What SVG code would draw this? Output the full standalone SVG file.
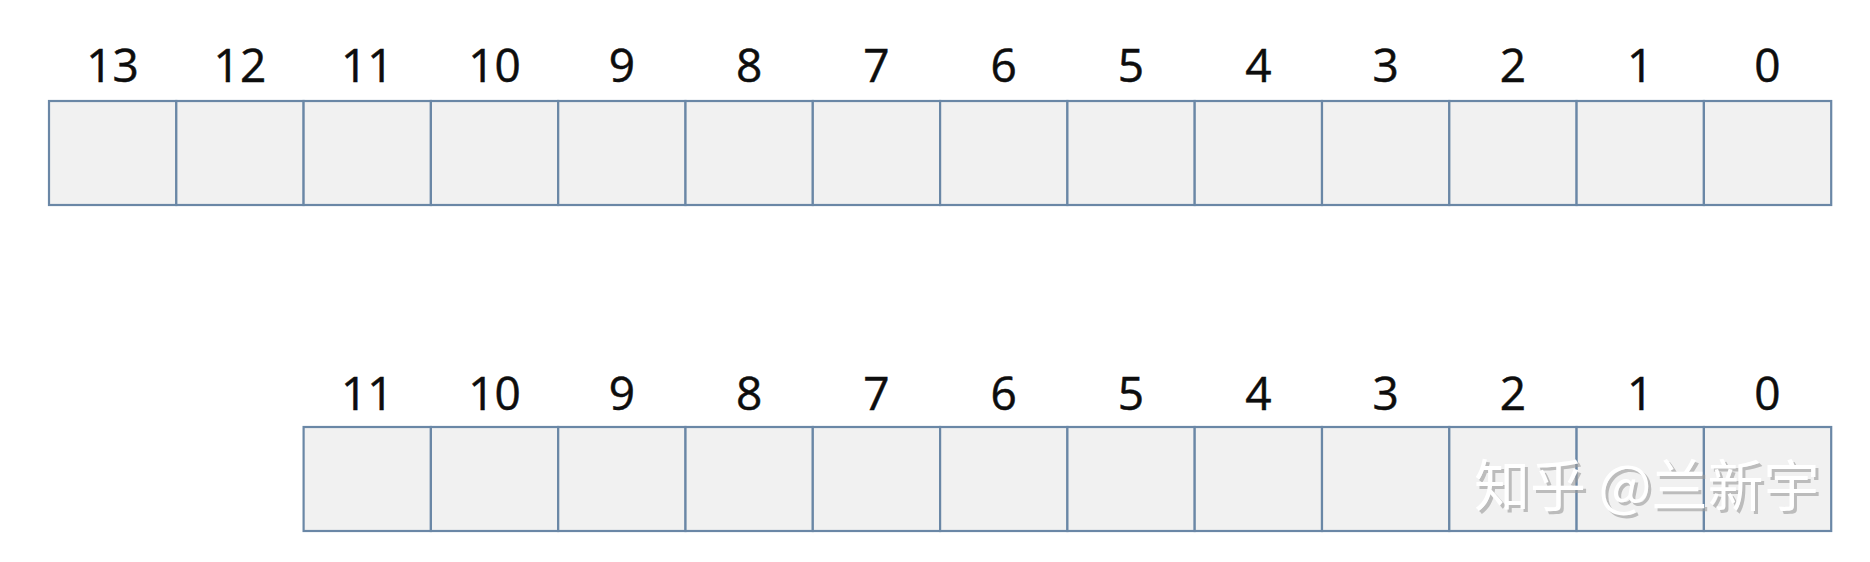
<svg xmlns="http://www.w3.org/2000/svg" width="1870" height="562" viewBox="0 0 1870 562">
<style>
.cell{fill:#f1f1f1;stroke:#6a87a6;stroke-width:2.2}
.lbl{font-family:"Open Sans","Liberation Sans",sans-serif;font-size:46px;fill:#0d0d0d;text-anchor:middle;stroke:#0d0d0d;stroke-width:0.5}
.wm{font-family:"Noto Sans CJK SC","Noto Sans",sans-serif;font-size:56px}
</style>
<rect width="1870" height="562" fill="#ffffff"/>
<g id="row-top">
<g id="t13"><rect class="cell" x="49" y="101" width="127.3" height="104"/><text class="lbl" x="112.6" y="82">13</text></g>
<g id="t12"><rect class="cell" x="176.3" y="101" width="127.3" height="104"/><text class="lbl" x="239.9" y="82">12</text></g>
<g id="t11"><rect class="cell" x="303.6" y="101" width="127.3" height="104"/><text class="lbl" x="367.2" y="82">11</text></g>
<g id="t10"><rect class="cell" x="430.9" y="101" width="127.3" height="104"/><text class="lbl" x="494.5" y="82">10</text></g>
<g id="t9"><rect class="cell" x="558.2" y="101" width="127.3" height="104"/><text class="lbl" x="621.8" y="82">9</text></g>
<g id="t8"><rect class="cell" x="685.5" y="101" width="127.3" height="104"/><text class="lbl" x="749.1" y="82">8</text></g>
<g id="t7"><rect class="cell" x="812.8" y="101" width="127.3" height="104"/><text class="lbl" x="876.4" y="82">7</text></g>
<g id="t6"><rect class="cell" x="940.1" y="101" width="127.3" height="104"/><text class="lbl" x="1003.7" y="82">6</text></g>
<g id="t5"><rect class="cell" x="1067.4" y="101" width="127.3" height="104"/><text class="lbl" x="1131" y="82">5</text></g>
<g id="t4"><rect class="cell" x="1194.7" y="101" width="127.3" height="104"/><text class="lbl" x="1258.3" y="82">4</text></g>
<g id="t3"><rect class="cell" x="1322" y="101" width="127.3" height="104"/><text class="lbl" x="1385.6" y="82">3</text></g>
<g id="t2"><rect class="cell" x="1449.3" y="101" width="127.3" height="104"/><text class="lbl" x="1512.9" y="82">2</text></g>
<g id="t1"><rect class="cell" x="1576.6" y="101" width="127.3" height="104"/><text class="lbl" x="1640.2" y="82">1</text></g>
<g id="t0"><rect class="cell" x="1703.9" y="101" width="127.3" height="104"/><text class="lbl" x="1767.5" y="82">0</text></g>
</g>
<g id="row-bottom">
<g id="b11"><rect class="cell" x="303.6" y="427" width="127.3" height="104"/><text class="lbl" x="367.2" y="410">11</text></g>
<g id="b10"><rect class="cell" x="430.9" y="427" width="127.3" height="104"/><text class="lbl" x="494.5" y="410">10</text></g>
<g id="b9"><rect class="cell" x="558.2" y="427" width="127.3" height="104"/><text class="lbl" x="621.8" y="410">9</text></g>
<g id="b8"><rect class="cell" x="685.5" y="427" width="127.3" height="104"/><text class="lbl" x="749.1" y="410">8</text></g>
<g id="b7"><rect class="cell" x="812.8" y="427" width="127.3" height="104"/><text class="lbl" x="876.4" y="410">7</text></g>
<g id="b6"><rect class="cell" x="940.1" y="427" width="127.3" height="104"/><text class="lbl" x="1003.7" y="410">6</text></g>
<g id="b5"><rect class="cell" x="1067.4" y="427" width="127.3" height="104"/><text class="lbl" x="1131" y="410">5</text></g>
<g id="b4"><rect class="cell" x="1194.7" y="427" width="127.3" height="104"/><text class="lbl" x="1258.3" y="410">4</text></g>
<g id="b3"><rect class="cell" x="1322" y="427" width="127.3" height="104"/><text class="lbl" x="1385.6" y="410">3</text></g>
<g id="b2"><rect class="cell" x="1449.3" y="427" width="127.3" height="104"/><text class="lbl" x="1512.9" y="410">2</text></g>
<g id="b1"><rect class="cell" x="1576.6" y="427" width="127.3" height="104"/><text class="lbl" x="1640.2" y="410">1</text></g>
<g id="b0"><rect class="cell" x="1703.9" y="427" width="127.3" height="104"/><text class="lbl" x="1767.5" y="410">0</text></g>
</g>
<g id="connectors"></g>
<g id="watermark">
<text class="wm" x="1477" y="509" fill="#9a9a9a" opacity="0.6">知乎 @兰新宇</text>
<text class="wm" x="1474" y="506" fill="#ffffff">知乎 @兰新宇</text>
</g>
</svg>
